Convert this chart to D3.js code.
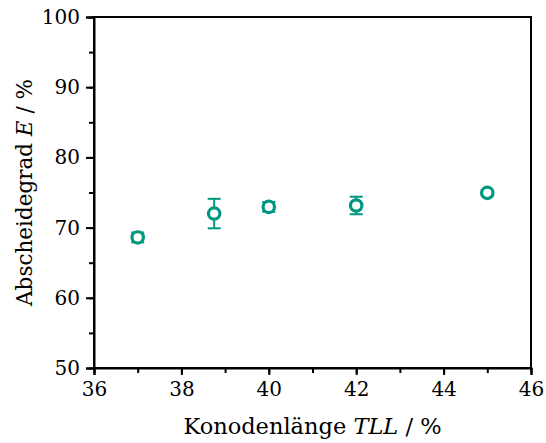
<!DOCTYPE html>
<html><head><meta charset="utf-8">
<script src="https://cdn.jsdelivr.net/npm/d3@7"></script>
<style>body{margin:0;background:#fff}svg{display:block}</style>
</head><body>
<script>
const tll = [37, 38.75, 40, 42, 45];
const E = [68.6, 72.0, 72.95, 73.15, 74.95];
const err = [0.7, 2.1, 0.7, 1.25, 0.4];
const xTicks = [36, 38, 40, 42, 44, 46];
const yTicks = [50, 60, 70, 80, 90, 100];

const W = 546, H = 443;
const m = {l: 94, t: 17, r: 15, b: 75};
const color = "#00977f";
const font = "DejaVu Serif";

const svg = d3.select("body").append("svg").attr("width", W).attr("height", H);
const x = d3.scaleLinear().domain([36, 46]).range([m.l, W - m.r]);
const y = d3.scaleLinear().domain([50, 100]).range([H - m.b, m.t]);

// frame
svg.append("rect").attr("x", x(36)).attr("y", y(100)).attr("width", x(46) - x(36)).attr("height", y(50) - y(100))
  .attr("fill", "none").attr("stroke", "#000").attr("stroke-width", 2);

// x axis
const gx = svg.append("g").attr("transform", `translate(0,${y(50)})`);
gx.call(d3.axisBottom(x).tickValues(d3.range(36, 46.01, 1)).tickSize(5).tickFormat(""));
gx.selectAll(".tick line").attr("stroke-width", 2);
gx.select(".domain").remove();
const gx2 = svg.append("g").attr("transform", `translate(0,${y(50)})`);
gx2.call(d3.axisBottom(x).tickValues(xTicks).tickSize(7).tickPadding(7).tickFormat(d3.format("d")));
gx2.select(".domain").attr("stroke-width", 2);
gx2.selectAll(".tick line").attr("stroke-width", 2);
gx2.selectAll("text").style("font-family", font).style("font-size", "20px").attr("fill", "#000");

// y axis
const gy = svg.append("g").attr("transform", `translate(${x(36)},0)`);
gy.call(d3.axisLeft(y).tickValues(d3.range(50, 100.01, 5)).tickSize(5).tickFormat(""));
gy.selectAll(".tick line").attr("stroke-width", 2);
gy.select(".domain").remove();
const gy2 = svg.append("g").attr("transform", `translate(${x(36)},0)`);
gy2.call(d3.axisLeft(y).tickValues(yTicks).tickSize(8).tickPadding(6).tickFormat(d3.format("d")));
gy2.select(".domain").attr("stroke-width", 2);
gy2.selectAll(".tick line").attr("stroke-width", 2);
gy2.selectAll("text").style("font-family", font).style("font-size", "20px").attr("fill", "#000");

// labels
const xl = svg.append("text").attr("x", (x(36) + x(46)) / 2).attr("y", 434).attr("text-anchor", "middle")
  .style("font-family", font).style("font-size", "22.5px");
xl.append("tspan").text("Konodenlänge ");
xl.append("tspan").attr("font-style", "italic").text("TLL");
xl.append("tspan").text(" / %");

const yl = svg.append("text").attr("transform", `translate(32,${(y(50) + y(100)) / 2}) rotate(-90)`).attr("text-anchor", "middle")
  .style("font-family", font).style("font-size", "21.5px");
yl.append("tspan").text("Abscheidegrad ");
yl.append("tspan").attr("font-style", "italic").text("E");
yl.append("tspan").text(" / %");

// points
const data = tll.map((d, i) => ({x: d, y: E[i], e: err[i]}));
const pts = svg.append("g");
pts.selectAll("line.eb").data(data).join("line").attr("class", "eb")
  .attr("x1", d => x(d.x)).attr("x2", d => x(d.x)).attr("y1", d => y(d.y - d.e)).attr("y2", d => y(d.y + d.e))
  .attr("stroke", color).attr("stroke-width", 2);
pts.selectAll("line.ct").data(data).join("line").attr("class", "ct")
  .attr("x1", d => x(d.x) - 6.5).attr("x2", d => x(d.x) + 6.5).attr("y1", d => y(d.y + d.e)).attr("y2", d => y(d.y + d.e))
  .attr("stroke", color).attr("stroke-width", 2);
pts.selectAll("line.cb").data(data).join("line").attr("class", "cb")
  .attr("x1", d => x(d.x) - 6.5).attr("x2", d => x(d.x) + 6.5).attr("y1", d => y(d.y - d.e)).attr("y2", d => y(d.y - d.e))
  .attr("stroke", color).attr("stroke-width", 2);
pts.selectAll("circle").data(data).join("circle")
  .attr("cx", d => x(d.x)).attr("cy", d => y(d.y)).attr("r", 5.7)
  .attr("fill", "#fff").attr("stroke", color).attr("stroke-width", 3.2);
</script>
</body></html>
